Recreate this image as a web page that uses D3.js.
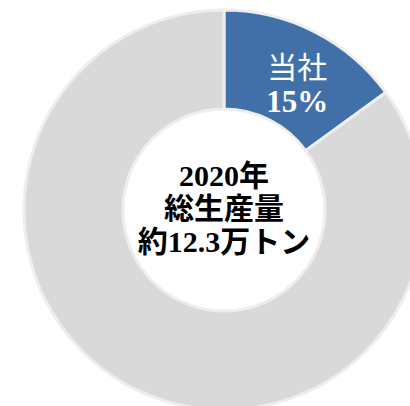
<!DOCTYPE html>
<html>
<head>
<meta charset="utf-8">
<script src="https://cdn.jsdelivr.net/npm/d3@7"></script>
<style>
  body { margin: 0; background: #fff; }
  svg { display: block; }
</style>
</head>
<body>
<div id="viz"></div>
<script>
// share of total production
var categories = ['当社', 'その他'];
var shares = [15, 85];
var sliceColors = ['#4170a9', '#d9d9d9'];
var centerLines = ['2020年', '総生産量', '約12.3万トン'];

var width = 410,
    height = 406,
    cx = 224,
    cy = 210,
    outerR = 200,
    innerR = 101;

var svg = d3.select('#viz').append('svg')
    .attr('width', width)
    .attr('height', height);

var g = svg.append('g')
    .attr('transform', 'translate(' + cx + ',' + cy + ')');

var pie = d3.pie().sort(null).value(function(d) { return d; });
var arc = d3.arc().innerRadius(innerR).outerRadius(outerR);
var arcs = pie(shares);

g.selectAll('path')
  .data(arcs)
  .enter().append('path')
    .attr('d', arc)
    .attr('fill', function(d, i) { return sliceColors[i]; })
    .attr('stroke', '#eeeeee')
    .attr('stroke-width', 3);

// label in the company slice
var c = arc.centroid(arcs[0]);
var lbl = g.append('g')
    .attr('transform', 'translate(' + (c[0] + 5) + ',' + c[1] + ')')
    .attr('fill', '#fff')
    .attr('text-anchor', 'middle');

lbl.append('text')
    .attr('y', 2)
    .style('font-family', '"Noto Sans CJK JP", sans-serif')
    .style('font-size', '30px')
    .text(categories[0]);

lbl.append('text')
    .attr('y', 36)
    .style('font-family', '"Liberation Serif", serif')
    .style('font-weight', 'bold')
    .style('font-size', '31px')
    .text(shares[0] + '%');

// center text
g.append('g')
    .attr('text-anchor', 'middle')
    .attr('fill', '#000')
    .style('font-family', '"Liberation Serif", "Noto Sans CJK JP", serif')
    .style('font-weight', 'bold')
    .style('font-size', '30px')
    .selectAll('text')
    .data(centerLines)
    .enter().append('text')
      .attr('y', function(d, i) { return -24 + i * 33; })
      .text(function(d) { return d; });
</script>
</body>
</html>
